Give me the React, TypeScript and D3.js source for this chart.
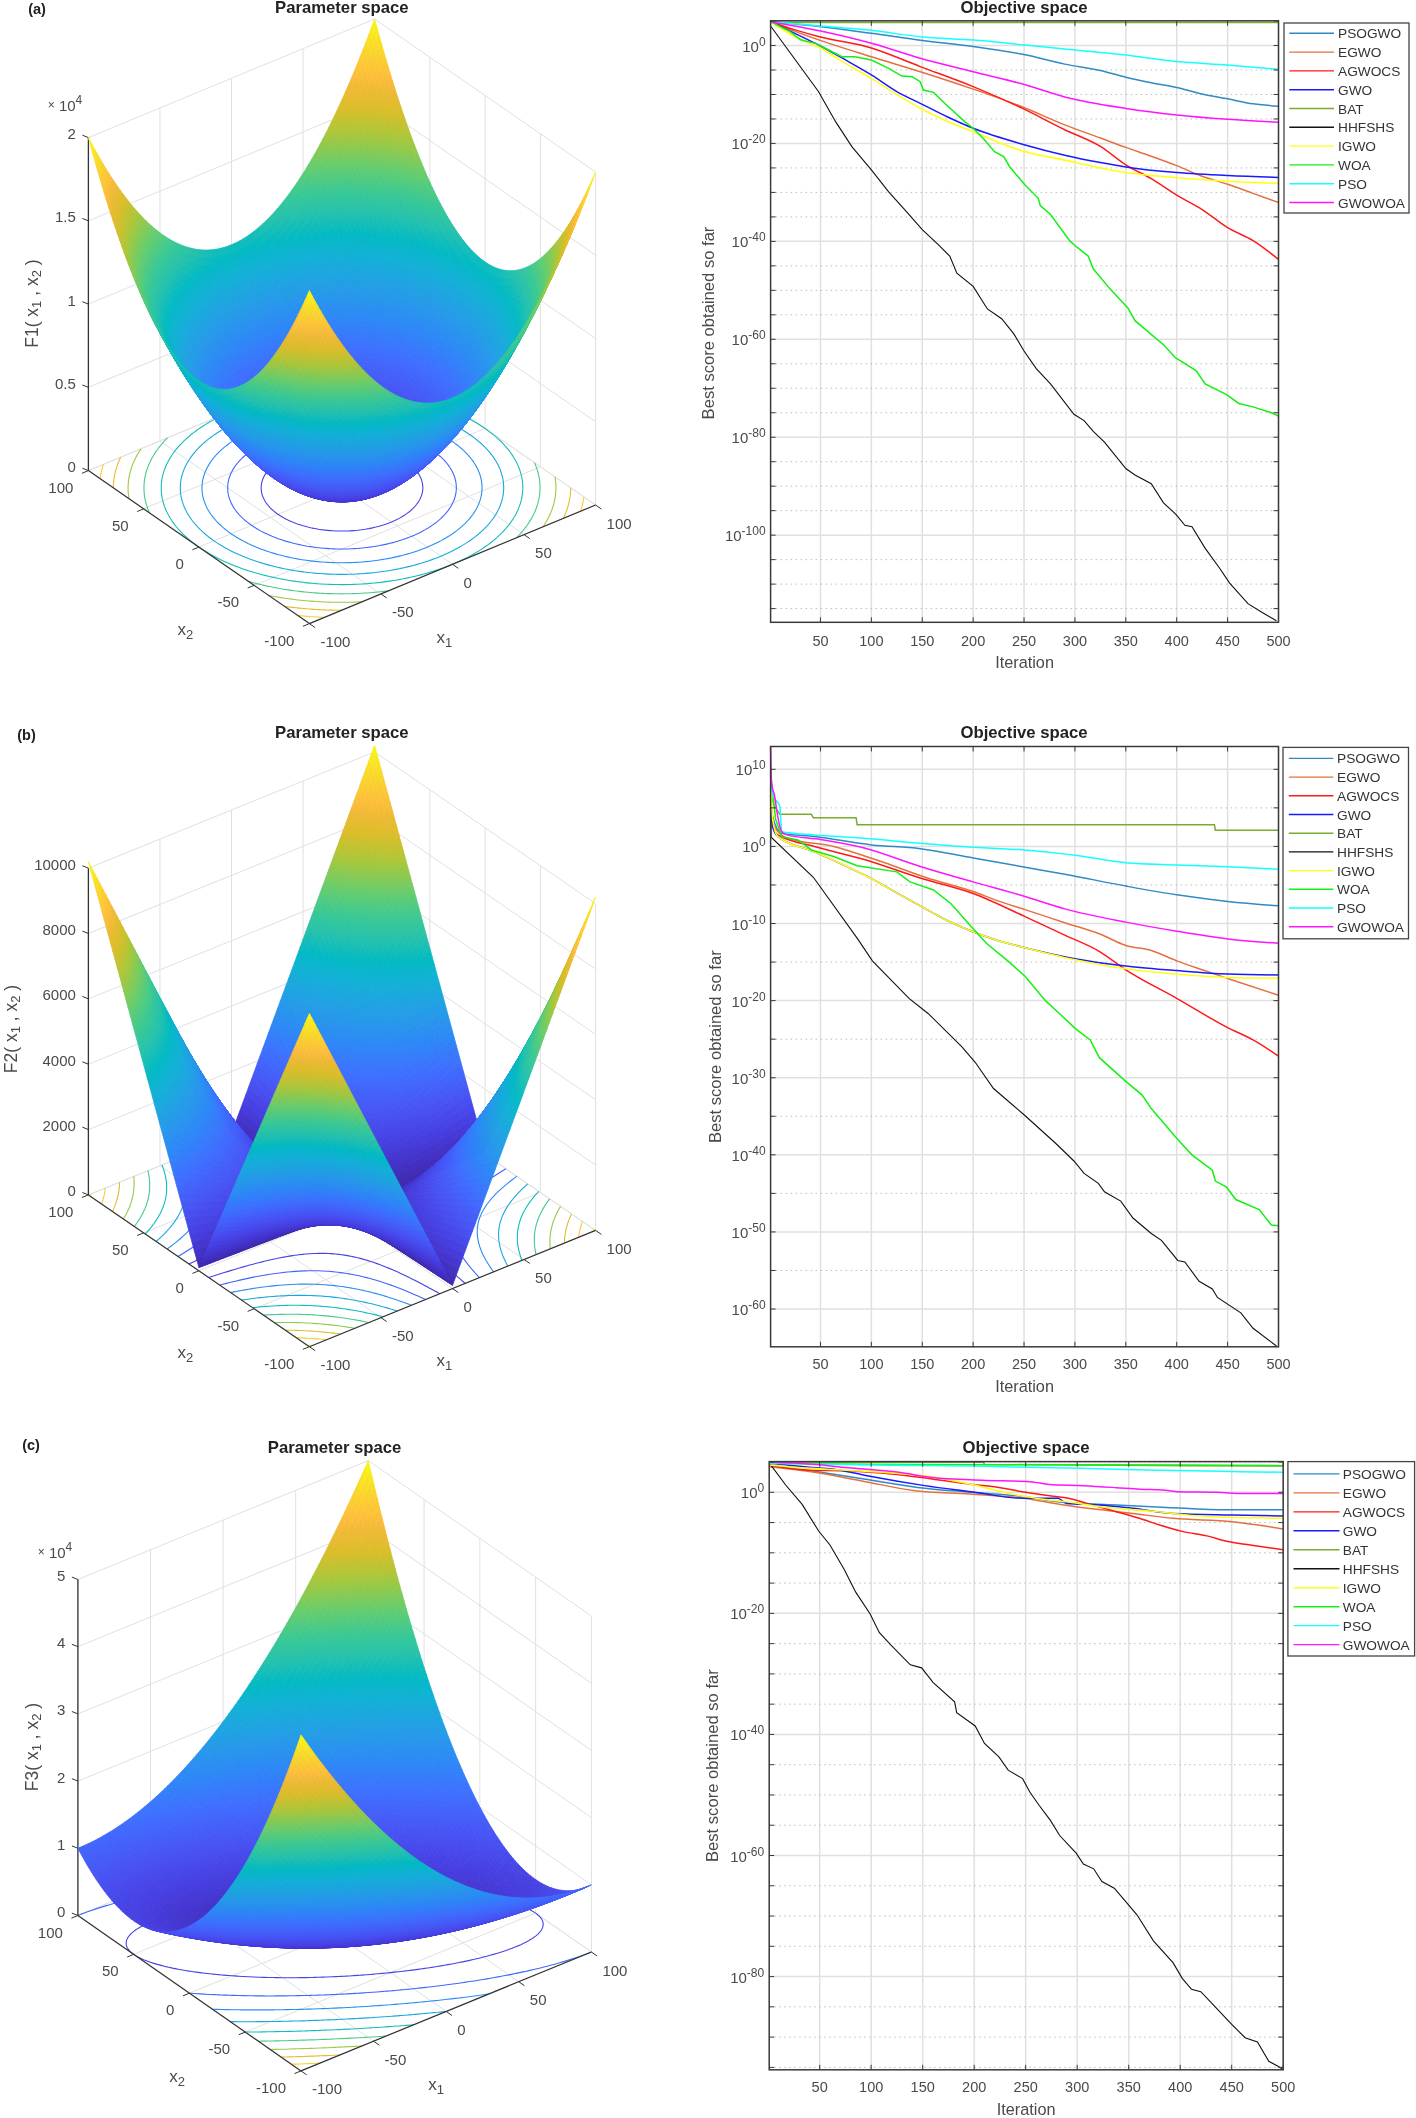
import React, { useMemo } from "react";
import * as d3 from "d3";

// ---------- legend ----------
const algorithms = ["PSOGWO", "EGWO", "AGWOCS", "GWO", "BAT", "HHFSHS", "IGWO", "WOA", "PSO", "GWOWOA"];
const algoColors = ["#2f8ac6", "#e4703f", "#ff1a1a", "#1a1aff", "#77ac30", "#111111", "#ffff14", "#14f014", "#14ffff", "#ff14ff"];
const algoWidths = [1.5, 1.5, 1.5, 1.5, 1.5, 1.1, 1.6, 1.5, 1.5, 1.5];

// ---------- convergence curves: [iteration, log10(best score)] ----------
const A_PSOGWO = [[1,4.87],[49,3.9],[100,2.5],[148,1.1],[200,-0.2],[251,-1.9],[290,-3.8],[325,-5.1],[350,-6.47],[375,-7.6],[400,-8.59],[425,-9.9],[450,-10.89],[475,-11.9],[500,-12.4]];
const A_EGWO = [[1,4.87],[25,2.9],[49,1.1],[100,-2.3],[148,-5.35],[200,-8.9],[248,-12.5],[290,-16.2],[325,-18.9],[350,-20.81],[375,-22.6],[400,-24.53],[425,-26.7],[450,-28.34],[475,-30.2],[500,-32.06]];
const A_AGWOCS = [[1,4.87],[25,3.2],[49,1.8],[100,-0.5],[148,-4.3],[200,-8.4],[248,-12.8],[290,-17.2],[325,-20.6],[350,-24.36],[375,-27.2],[400,-30.56],[425,-33.5],[450,-37.2],[475,-39.86],[500,-43.66]];
const A_GWO = [[1,4.87],[35,1.45],[49,0],[75,-3],[100,-6],[125,-9.4],[148,-11.8],[175,-14.6],[200,-16.9],[251,-20.3],[290,-22.4],[325,-23.9],[350,-24.8],[400,-25.95],[450,-26.57],[500,-26.93]];
const A_BAT = [[1,4.7],[500,4.7]];
const A_HHFSHS = [[1,3.99],[48,-9.4],[65,-15.6],[81,-20.7],[100,-25.4],[117,-29.9],[136,-34.3],[150,-37.6],[166,-40.7],[177,-43],[184,-46.5],[200,-49.2],[214,-53.8],[228,-55.8],[240,-58.9],[250,-62.4],[262,-66],[276,-69.1],[299,-75.3],[309,-76.6],[318,-78.8],[329,-81],[350,-86.4],[359,-87.7],[375,-89.5],[387,-93.4],[399,-95.7],[408,-98],[415,-98.3],[428,-102.7],[442,-106.7],[452,-109.8],[470,-114],[484,-115.8],[498,-117.5]];
const A_IGWO = [[1,4.87],[25,1.8],[50,-0.57],[75,-3.7],[100,-6.7],[125,-10],[148,-12.8],[175,-15.5],[200,-17.6],[251,-21.7],[290,-23.4],[325,-25],[350,-25.95],[400,-27.01],[450,-27.72],[500,-28.16]];
const A_WOA = [[1,4.87],[20,2.83],[31,1.12],[45,0.44],[58,-0.92],[71,-2.28],[84,-2.28],[100,-2.96],[117,-4.67],[130,-6.23],[140,-6.37],[148,-7.39],[151,-9.09],[161,-9.57],[172,-11.8],[192,-15.6],[200,-16.9],[210,-19],[221,-21.7],[230,-22.7],[236,-24.8],[251,-28.5],[264,-31.2],[266,-32.7],[276,-34.5],[295,-39.9],[299,-40.7],[313,-43],[318,-45.6],[334,-49.6],[352,-53.6],[359,-56.2],[387,-61.1],[399,-63.8],[419,-66.4],[428,-69.1],[449,-71.3],[461,-73.1],[475,-73.8],[493,-75],[500,-75.7]];
const A_PSO = [[1,4.87],[50,3.99],[100,3.1],[148,1.8],[200,1.12],[251,0.1],[290,-0.71],[350,-1.95],[400,-3.28],[450,-3.99],[500,-4.87]];
const A_GWOWOA = [[1,4.87],[49,3],[100,0.45],[148,-2.6],[200,-5.35],[251,-8],[290,-10.5],[350,-12.84],[400,-14.17],[450,-15.06],[500,-15.68]];

const B_PSOGWO = [[1,5],[5,3],[12,1.7],[44,1.28],[100,0.2],[148,-0.3],[200,-1.5],[251,-2.7],[290,-3.6],[350,-5.14],[400,-6.28],[450,-7.13],[500,-7.7]];
const B_EGWO = [[1,5.5],[5,2.5],[17,1.1],[63,0],[106,-1.8],[155,-4.1],[200,-5.85],[225,-7.1],[251,-8.2],[290,-9.9],[325,-11.4],[350,-12.84],[375,-13.5],[400,-14.84],[425,-16],[450,-17.12],[500,-19.3]];
const B_AGWOCS = [[1,5],[4,2.4],[8,1.5],[44,0],[93,-1.7],[148,-4.1],[200,-6.1],[251,-9.1],[290,-11.5],[325,-13.7],[350,-16],[400,-19.7],[450,-23.5],[475,-25.1],[500,-27.2]];
const B_GWO = [[1,6.7],[3,2.5],[8,1.3],[44,-0.7],[93,-3.7],[137,-6.9],[176,-9.7],[222,-12.1],[250,-13.1],[300,-14.56],[350,-15.5],[400,-16.1],[450,-16.55],[500,-16.67]];
const B_BAT = [[1,6.5],[5,5.2],[10,4.17],[41,4.17],[43,3.71],[85,3.71],[86,2.8],[437,2.8],[438,2.11],[500,2.11]];
const B_HHFSHS = [[1,6.7],[1.5,1.2],[43,-4],[86,-11.9],[101,-14.84],[137,-19.7],[156,-21.7],[189,-26],[202,-28],[220,-31.4],[250,-34.8],[281,-38.5],[299,-40.8],[309,-42.4],[323,-43.7],[329,-44.8],[345,-46],[357,-48.2],[375,-50.2],[385,-51.1],[401,-53.7],[408,-53.9],[422,-56.4],[435,-57.4],[440,-58.5],[463,-60.5],[475,-62.5],[498,-64.8]];
const B_IGWO = [[1,9.9],[3,3.5],[8,1.3],[44,-0.7],[93,-3.7],[137,-6.9],[176,-9.7],[222,-12.1],[250,-13.1],[300,-14.7],[350,-15.87],[400,-16.55],[450,-17],[500,-17.1]];
const B_WOA = [[1,8],[2,8.2],[6,3.5],[12,1.26],[28,0.83],[41,-0.46],[63,-1.3],[86,-2.5],[125,-3.3],[138,-4.6],[161,-5.65],[178,-7.4],[198,-10.4],[213,-12.56],[234,-14.84],[251,-16.84],[271,-20],[285,-21.7],[301,-23.7],[315,-25.1],[324,-27.4],[348,-30.25],[366,-32.25],[375,-34],[401,-38],[415,-40],[435,-42],[438,-43.4],[449,-44.2],[458,-45.8],[481,-47.1],[493,-49.1],[500,-49.2]];
const B_PSO = [[1,8],[4,6.5],[10,5.2],[12,1.9],[44,1.49],[93,1.05],[148,0.4],[200,-0.12],[250,-0.46],[300,-1.14],[350,-2.11],[400,-2.4],[450,-2.63],[500,-2.97]];
const B_GWOWOA = [[1,12.9],[2,8.2],[5,6.5],[8,3.9],[12,1.9],[17,1.5],[50,0.9],[93,-0.2],[148,-2.6],[200,-4.6],[251,-6.5],[290,-8.1],[350,-9.82],[400,-11],[450,-12],[500,-12.56]];

const C_PSOGWO = [[1,4.5],[48,3.4],[93,2.2],[145,0.8],[197,0],[248,-0.7],[281,-1.55],[338,-2.1],[387,-2.5],[445,-2.9],[500,-2.9]];
const C_EGWO = [[1,4.2],[45,3.3],[93,1.8],[141,0.3],[196,-0.3],[248,-1],[287,-2.1],[354,-3.5],[393,-4.3],[451,-4.85],[500,-6.06]];
const C_AGWOCS = [[1,4.5],[35,3.7],[80,3.5],[122,3],[159,2.2],[198,1.3],[224,0.8],[250,0],[279,-0.7],[290,-0.95],[309,-1.8],[338,-3.2],[364,-4.5],[380,-5.4],[403,-6.5],[426,-7.2],[445,-8.1],[468,-8.7],[500,-9.5]];
const C_GWO = [[1,4.8],[35,4.2],[68,3.7],[100,2.6],[152,1.1],[197,0.1],[248,-1],[281,-1],[290,-1.85],[322,-2.1],[354,-2.65],[393,-3.5],[451,-3.75],[500,-3.9]];
const C_BAT = [[1,4.95],[209,4.95],[210,4.6],[407,4.4],[500,4.35]];
const C_HHFSHS = [[1,4.85],[17,1.2],[33,-2],[49,-6.4],[60,-8.7],[74,-12.8],[85,-16.5],[99,-20.1],[108,-23.2],[119,-25.2],[138,-28.5],[149,-29],[160,-31.4],[181,-34.6],[183,-36.4],[201,-38.6],[210,-41.5],[224,-43.7],[233,-45.9],[247,-47.3],[254,-49.5],[263,-51.7],[274,-54.2],[283,-56.7],[299,-59.6],[306,-61.4],[316,-62.2],[324,-64.3],[336,-65.4],[349,-68],[358,-69.8],[374,-74.1],[393,-77.7],[402,-80.3],[411,-82.1],[420,-82.5],[434,-85],[450,-87.9],[463,-90.1],[475,-90.8],[486,-94],[495,-94.8],[500,-95.4]];
const C_IGWO = [[1,4.5],[29,4.07],[80,3.6],[135,3],[150,2.75],[200,1.2],[226,0.1],[251,-0.73],[274,-1.3],[290,-1.55],[322,-2.4],[371,-3.1],[425,-4],[500,-4.3]];
const C_WOA = [[1,4.8],[100,4.62],[200,4.55],[300,4.55],[407,4.5],[500,4.4]];
const C_PSO = [[1,4.8],[100,4.5],[200,4.34],[250,4.12],[303,3.96],[367,3.68],[458,3.41],[500,3.3]];
const C_GWOWOA = [[1,4.95],[29,4.8],[78,4.07],[127,3.3],[159,2.45],[208,2],[254,1.76],[273,1.3],[306,1.1],[338,0.77],[361,0.5],[383,0.38],[397,0.1],[436,0],[462,-0.22],[500,-0.22]];

const seriesA = [A_PSOGWO, A_EGWO, A_AGWOCS, A_GWO, A_BAT, A_HHFSHS, A_IGWO, A_WOA, A_PSO, A_GWOWOA];
const seriesB = [B_PSOGWO, B_EGWO, B_AGWOCS, B_GWO, B_BAT, B_HHFSHS, B_IGWO, B_WOA, B_PSO, B_GWOWOA];
const seriesC = [C_PSOGWO, C_EGWO, C_AGWOCS, C_GWO, C_BAT, C_HHFSHS, C_IGWO, C_WOA, C_PSO, C_GWOWOA];

const iterTicks = [50, 100, 150, 200, 250, 300, 350, 400, 450, 500];
const majorA = [0, -20, -40, -60, -80, -100];
const majorB = [10, 0, -10, -20, -30, -40, -50, -60];
const majorC = [0, -20, -40, -60, -80];

// ---------- 3D surfaces: the panels plot these labelled benchmark functions,
// so the surface is evaluated on MATLAB's -100:2:100 mesh rather than read off pixel by pixel ----------
const meshAxis = d3.range(-100, 101, 2);
const axisTicks3d = [-100, -50, 0, 50, 100];
const F1 = (a: number, b: number) => a * a + b * b;
const F2 = (a: number, b: number) => Math.abs(a) + Math.abs(b) + Math.abs(a) * Math.abs(b);
const F3 = (a: number, b: number) => b * b + (a + b) * (a + b);
const F1Levels = d3.range(2000, 20000, 2000);
const F2Levels = d3.range(1000, 10001, 1000);
const F3Levels = d3.range(5000, 50000, 5000);
const F1Ticks = [[0, "0"], [5000, "0.5"], [10000, "1"], [15000, "1.5"], [20000, "2"]] as [number, string][];
const F2Ticks = [[0, "0"], [2000, "2000"], [4000, "4000"], [6000, "6000"], [8000, "8000"], [10000, "10000"]] as [number, string][];
const F3Ticks = [[0, "0"], [10000, "1"], [20000, "2"], [30000, "3"], [40000, "4"], [50000, "5"]] as [number, string][];

// MATLAB parula colormap: entries of the 64-colour table
const parulaIndex = [0, 5, 9, 14, 18, 22, 27, 30, 33, 36, 40, 45, 49, 52, 54, 58, 63];
const parulaColors = ["#3e26a8", "#463cde", "#4852f4", "#3e6fff", "#2d87f7", "#259be8", "#12b1d6", "#02bac3", "#24c1ae", "#37c897", "#64cd6f", "#abc739", "#dcbd29", "#efba36", "#febe3c", "#f9d72c", "#f9fb14"];
const parula = d3.scaleLinear<string>().domain(parulaIndex.map((i) => i / 63)).range(parulaColors).interpolate(d3.interpolateRgb);

const FONT = "'Liberation Sans', Arial, sans-serif";
const TXT = "#4a4a4a";
const GRID = "#e0e0e0";

function Surface3D({ f, zTop, zMaxColor, levels, zTicks, L, B, R, H, name, title, titleX, titleY, tag, tagX, tagY, zLabelX, zLabelY, mult }: any) {
  const t1 = d3.scaleLinear().domain([-100, 100]).range([0, 1]);
  const t2 = d3.scaleLinear().domain([-100, 100]).range([0, 1]);
  const hz = d3.scaleLinear().domain([0, zTop]).range([0, H]);
  const P = (a: number, b: number, z: number): [number, number] => {
    const u = t1(a), v = t2(b);
    return [B[0] + u * (R[0] - B[0]) + v * (L[0] - B[0]), B[1] + u * (R[1] - B[1]) + v * (L[1] - B[1]) - hz(z)];
  };
  const content = useMemo(() => {
    const n = meshAxis.length;
    const quads: React.ReactNode[] = [];
    const pt = (p: [number, number]) => p[0].toFixed(2) + " " + p[1].toFixed(2);
    for (let i = n - 2; i >= 0; i--) {
      for (let j = n - 2; j >= 0; j--) {
        const a0 = meshAxis[i], a1 = meshAxis[i + 1], b0 = meshAxis[j], b1 = meshAxis[j + 1];
        const z00 = f(a0, b0), z10 = f(a1, b0), z11 = f(a1, b1), z01 = f(a0, b1);
        const col = parula(Math.min(1, (z00 + z10 + z11 + z01) / 4 / zMaxColor));
        quads.push(<path key={i * n + j} d={`M${pt(P(a0, b0, z00))}L${pt(P(a1, b0, z10))}L${pt(P(a1, b1, z11))}L${pt(P(a0, b1, z01))}Z`} fill={col} stroke={col} strokeWidth={0.8} />);
      }
    }
    // floor contours (d3.contours), with the edge-following parts of each ring removed
    const values: number[] = [];
    for (let j = 0; j < n; j++) for (let i = 0; i < n; i++) values.push(f(meshAxis[i], meshAxis[j]));
    const gen = d3.contours().size([n, n]).thresholds(levels);
    const cont: React.ReactNode[] = [];
    const g2d = d3.scaleLinear().domain([0.5, n - 0.5]).range([-100, 100]).clamp(true);
    gen(values).forEach((mp: any, k: number) => {
      const col = parula(mp.value / zMaxColor);
      let d = "";
      mp.coordinates.forEach((poly: number[][][]) => poly.forEach((ring: number[][]) => {
        const open = ring.slice(0, -1);
        const isEdge = (p: number[]) => p[0] <= 0 || p[0] >= n || p[1] <= 0 || p[1] >= n;
        const start = open.findIndex(isEdge);
        const m = open.length;
        let pen = false;
        const offset = start < 0 ? 0 : start;
        for (let q = 0; q < m; q++) {
          const p = open[(q + offset) % m];
          if (isEdge(p)) { pen = false; continue; }
          const s = pt(P(g2d(p[0]), g2d(p[1]), 0));
          d += (pen ? "L" : "M") + s;
          pen = true;
        }
        if (start < 0) d += "Z";
      }));
      cont.push(<path key={k} d={d} fill="none" stroke={col} strokeWidth={1.1} />);
    });
    return { quads, cont };
  }, []);

  const norm = (dx: number, dy: number, len: number) => { const m = Math.hypot(dx, dy); return [dx / m * len, dy / m * len]; };
  const tickX1 = norm(B[0] - L[0], B[1] - L[1], 7);
  const tickX2 = norm(B[0] - R[0], B[1] - R[1], 7);
  const grid: React.ReactNode[] = [];
  const ln = (p: number[], q: number[], k: string, col = GRID, w = 1) => <line key={k} x1={p[0]} y1={p[1]} x2={q[0]} y2={q[1]} stroke={col} strokeWidth={w} />;
  const zLim = zTicks[zTicks.length - 1][0];
  axisTicks3d.forEach((t) => {
    grid.push(ln(P(t, -100, 0), P(t, 100, 0), "fa" + t));
    grid.push(ln(P(-100, t, 0), P(100, t, 0), "fb" + t));
    grid.push(ln(P(t, 100, 0), P(t, 100, zLim), "wa" + t));
    grid.push(ln(P(100, t, 0), P(100, t, zLim), "wb" + t));
  });
  zTicks.forEach(([z]: [number, string]) => {
    grid.push(ln(P(-100, 100, z), P(100, 100, z), "za" + z));
    grid.push(ln(P(100, 100, z), P(100, -100, z), "zb" + z));
  });
  const DARK = "#333";
  const sub = (s: string) => <tspan fontSize={13} dy={4}>{s}</tspan>;
  const rs = (s: string) => <tspan dy={-4}>{s}</tspan>;
  return (
    <g fontFamily={FONT}>
      <text x={titleX} y={titleY} textAnchor="middle" dominantBaseline="central" fontWeight="bold" fontSize={16.7} fill="#222">{title}</text>
      <text x={tagX} y={tagY} textAnchor="middle" dominantBaseline="central" fontWeight="bold" fontSize={14.5} fill="#222">{tag}</text>
      {grid}
      {content.cont}
      {/* axes */}
      <line x1={L[0]} y1={L[1]} x2={L[0]} y2={P(-100, 100, zLim)[1]} stroke={DARK} strokeWidth={1.3} />
      <line x1={L[0]} y1={L[1]} x2={B[0]} y2={B[1]} stroke={DARK} strokeWidth={1.2} />
      <line x1={B[0]} y1={B[1]} x2={R[0]} y2={R[1]} stroke={DARK} strokeWidth={1.2} />
      {axisTicks3d.map((t) => {
        const p1 = P(t, -100, 0), p2 = P(-100, t, 0);
        return (
          <g key={"t" + t} fontSize={15} fill={TXT}>
            <line x1={p1[0]} y1={p1[1]} x2={p1[0] + tickX1[0]} y2={p1[1] + tickX1[1]} stroke={DARK} />
            <line x1={p2[0]} y1={p2[1]} x2={p2[0] + tickX2[0]} y2={p2[1] + tickX2[1]} stroke={DARK} />
            <text x={p1[0] + 11} y={p1[1] + 18} dominantBaseline="central">{t}</text>
            <text x={p2[0] - 15} y={p2[1] + 16.5} textAnchor="end" dominantBaseline="central">{t}</text>
          </g>
        );
      })}
      {zTicks.map(([z, label]: [number, string]) => {
        const p = P(-100, 100, z);
        return (
          <g key={"z" + z}>
            <line x1={p[0]} y1={p[1]} x2={p[0] - 6} y2={p[1] - 2.4} stroke={DARK} />
            <text x={p[0] - 12.5} y={p[1] - 4} textAnchor="end" dominantBaseline="central" fontSize={15} fill={TXT}>{label}</text>
          </g>
        );
      })}
      {mult && (
        <text x={mult[0]} y={mult[1]} textAnchor="middle" dominantBaseline="central" fontSize={15} fill={TXT}>
          <tspan fontSize={12}>×</tspan><tspan> 10</tspan><tspan fontSize={12} dy={-5}>4</tspan>
        </text>
      )}
      <text x={B[0] + 135} y={B[1] + 14} textAnchor="middle" dominantBaseline="central" fontSize={17} fill={TXT}>x{sub("1")}</text>
      <text x={B[0] - 124} y={B[1] + 6} textAnchor="middle" dominantBaseline="central" fontSize={17} fill={TXT}>x{sub("2")}</text>
      <text transform={`translate(${zLabelX},${zLabelY}) rotate(-90)`} textAnchor="middle" dominantBaseline="central" fontSize={17.5} fill={TXT}>
        {name}( x{sub("1")}{rs(" , x")}{sub("2")}{rs(" )")}
      </text>
      {content.quads}
    </g>
  );
}

function Convergence({ series, left, right, top, bottom, logTop, logBottom, majors, title, titleX, titleY, xLabelY, tickY, yLabelX, yLabelY, legend }: any) {
  const x = d3.scaleLinear().domain([1, 500]).range([left, right]);
  const y = d3.scaleLog().domain([Math.pow(10, logTop), Math.pow(10, logBottom)]).range([top, bottom]);
  const line = d3.line<number[]>().x((d) => x(d[0])).y((d) => y(Math.pow(10, d[1])));
  const lineCurved = d3.line<number[]>().x((d) => x(d[0])).y((d) => y(Math.pow(10, d[1]))).curve(d3.curveMonotoneX);
  const angular = ["BAT", "HHFSHS", "WOA"];
  const minors: number[] = [];
  for (let e = Math.floor(logTop / 5) * 5; e > logBottom; e -= 5) if (!majors.includes(e)) minors.push(e);
  const DARK = "#3a3a3a";
  return (
    <g fontFamily={FONT}>
      <text x={titleX} y={titleY} textAnchor="middle" dominantBaseline="central" fontWeight="bold" fontSize={16.7} fill="#222">{title}</text>
      {iterTicks.map((t) => <line key={t} x1={x(t)} x2={x(t)} y1={top} y2={bottom} stroke={GRID} strokeWidth={1.5} />)}
      {majors.map((e: number) => <line key={e} x1={left} x2={right} y1={y(Math.pow(10, e))} y2={y(Math.pow(10, e))} stroke={GRID} strokeWidth={1.5} />)}
      {minors.map((e) => <line key={e} x1={left} x2={right} y1={y(Math.pow(10, e))} y2={y(Math.pow(10, e))} stroke="#bdbdbd" strokeWidth={1} strokeDasharray="1.5 3.5" />)}
      {series.map((s: number[][], i: number) => (
        <path key={i} d={(angular.includes(algorithms[i]) ? line : lineCurved)(s) as string} fill="none" stroke={algoColors[i]} strokeWidth={algoWidths[i]} />
      ))}
      <rect x={left} y={top} width={right - left} height={bottom - top} fill="none" stroke={DARK} strokeWidth={1.5} />
      {iterTicks.map((t) => (
        <g key={t}>
          <line x1={x(t)} x2={x(t)} y1={bottom} y2={bottom - 5} stroke={DARK} />
          <line x1={x(t)} x2={x(t)} y1={top} y2={top + 5} stroke={DARK} />
          <text x={x(t)} y={tickY} textAnchor="middle" dominantBaseline="central" fontSize={14.5} fill={TXT}>{t}</text>
        </g>
      ))}
      {[...majors, ...minors].map((e: number) => (
        <g key={e}>
          <line x1={left} x2={left + 5} y1={y(Math.pow(10, e))} y2={y(Math.pow(10, e))} stroke={DARK} />
          <line x1={right} x2={right - 5} y1={y(Math.pow(10, e))} y2={y(Math.pow(10, e))} stroke={DARK} />
        </g>
      ))}
      {majors.map((e: number) => (
        <text key={e} x={left - 5} y={y(Math.pow(10, e)) + 6} textAnchor="end" fontSize={15} fill={TXT}>
          10<tspan fontSize={12} dy={-6}>{String(e)}</tspan>
        </text>
      ))}
      <text x={(left + right) / 2} y={xLabelY} textAnchor="middle" dominantBaseline="central" fontSize={16.3} fill={TXT}>Iteration</text>
      <text transform={`translate(${yLabelX},${yLabelY}) rotate(-90)`} textAnchor="middle" dominantBaseline="central" fontSize={16.6} fill={TXT}>Best score obtained so far</text>
      <rect x={legend.x0} y={legend.y0} width={legend.x1 - legend.x0} height={legend.y1 - legend.y0} fill="#fff" stroke="#444" strokeWidth={1.3} />
      {algorithms.map((a, i) => {
        const ly = legend.row0 + i * legend.rowStep;
        return (
          <g key={a}>
            <line x1={legend.lx0} x2={legend.lx1} y1={ly} y2={ly} stroke={algoColors[i]} strokeWidth={1.4} />
            <text x={legend.tx} y={ly + 0.5} dominantBaseline="central" fontSize={13.7} fill="#333">{a}</text>
          </g>
        );
      })}
    </g>
  );
}

export default function App() {
  return (
    <svg width={1416} height={2118} viewBox="0 0 1416 2118" style={{ position: "absolute", left: 0, top: 0, background: "#fff", filter: "blur(0.4px)" }}>
      <Surface3D f={F1} zTop={20000} zMaxColor={20000} levels={F1Levels} zTicks={F1Ticks} L={[88.4, 470.6]} B={[309.4, 623.6]} R={[595.6, 505]} H={333}
        name="F1" title="Parameter space" titleX={341.8} titleY={7.8} tag="(a)" tagX={37} tagY={9} zLabelX={31.6} zLabelY={303.6} mult={[65, 105]} />
      <Surface3D f={F2} zTop={10100} zMaxColor={10200} levels={F2Levels} zTicks={F2Ticks} L={[88.4, 1194.9]} B={[309.4, 1346.7]} R={[595.6, 1230.4]} H={330}
        name="F2" title="Parameter space" titleX={341.8} titleY={732.5} tag="(b)" tagX={26.5} tagY={735} zLabelX={10.5} zLabelY={1029} />
      <Surface3D f={F3} zTop={50000} zMaxColor={50000} levels={F3Levels} zTicks={F3Ticks} L={[77.9, 1915.5]} B={[301, 2070.9]} R={[591.4, 1952]} H={336}
        name="F3" title="Parameter space" titleX={334.6} titleY={1447.6} tag="(c)" tagX={31} tagY={1445} zLabelX={31.6} zLabelY={1747} mult={[55, 1552]} />
      <Convergence series={seriesA} left={770.6} right={1278.5} top={20.8} bottom={622.3} logTop={5.05} logBottom={-117.8} majors={majorA}
        title="Objective space" titleX={1024} titleY={7.8} xLabelY={662} tickY={640.5} yLabelX={708} yLabelY={323}
        legend={{ x0: 1284, x1: 1409, y0: 23, y1: 213, row0: 33.3, rowStep: 18.8, lx0: 1289.3, lx1: 1334, tx: 1338 }} />
      <Convergence series={seriesB} left={770.6} right={1278.5} top={746.5} bottom={1346.8} logTop={12.96} logBottom={-64.9} majors={majorB}
        title="Objective space" titleX={1024} titleY={732.5} xLabelY={1386.4} tickY={1364.4} yLabelX={715} yLabelY={1046.7}
        legend={{ x0: 1283, x1: 1408.5, y0: 747.4, y1: 938.8, row0: 758.4, rowStep: 18.7, lx0: 1288.8, lx1: 1333.4, tx: 1337 }} />
      <Convergence series={seriesC} left={769.2} right={1283.2} top={1461.6} bottom={2069.8} logTop={5.07} logBottom={-95.4} majors={majorC}
        title="Objective space" titleX={1026} titleY={1447.6} xLabelY={2109} tickY={2087} yLabelX={712} yLabelY={1765.6}
        legend={{ x0: 1287.9, x1: 1414.6, y0: 1461.6, y1: 1656, row0: 1473.9, rowStep: 18.97, lx0: 1293.5, lx1: 1339.5, tx: 1342.8 }} />
    </svg>
  );
}
